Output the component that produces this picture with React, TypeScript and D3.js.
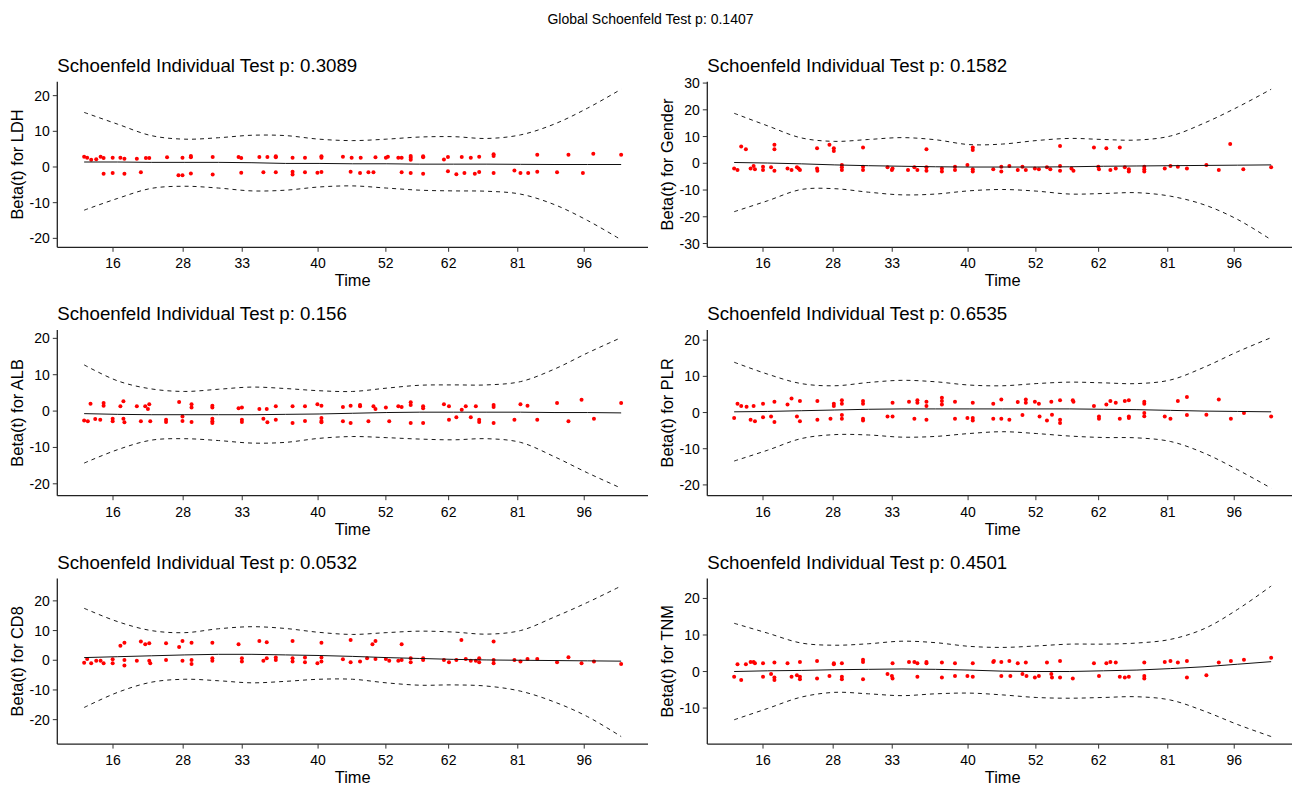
import React from "react";
import * as d3 from "d3";

// ---------- data ----------
const globalP = "0.1407";
const timeRange = [0, 16]; // transformed (km) time extent of events
const timeTickPos = [0.86, 2.95, 4.71, 6.97, 8.99, 10.86, 12.92, 14.9];
const timeTickLabels = ["16", "28", "33", "40", "52", "62", "81", "96"];
const smoothX = [0, 1, 2, 3, 4, 5, 6, 7, 8, 9, 10, 11, 12, 13, 14, 15, 16];

const ldhPoints = [[0,2.9],[0.09,2.6],[0.21,2.0],[0.36,2.2],[0.49,2.9],[0.58,2.5],[0.58,-1.9],[0.85,2.6],[0.85,-1.7],[1.08,2.6],[1.2,2.3],[1.2,-1.9],[1.57,2.3],[1.69,-1.5],[1.84,2.5],[1.94,2.5],[2.47,2.7],[2.81,-2.3],[2.93,2.6],[2.93,-2.3],[3.18,2.7],[3.18,3.1],[3.18,-1.8],[3.83,2.8],[3.83,-2.1],[4.6,2.8],[4.68,2.5],[4.68,-1.6],[5.22,2.8],[5.34,-1.5],[5.46,2.8],[5.71,2.7],[5.71,3.0],[5.71,-1.5],[6.21,2.6],[6.21,-1.3],[6.21,-2.1],[6.58,2.6],[6.58,-1.5],[6.95,-1.6],[7.07,2.6],[7.07,3.0],[7.07,-1.4],[7.71,2.9],[7.94,-1.3],[7.97,2.6],[8.22,-1.7],[8.24,2.6],[8.47,-1.5],[8.62,-1.5],[8.68,2.7],[8.99,2.6],[9.05,2.9],[9.36,2.6],[9.46,2.6],[9.46,-1.5],[9.73,2.0],[9.73,2.6],[9.73,3.1],[9.73,-1.7],[10.1,2.7],[10.1,3.0],[10.1,-1.9],[10.72,2.1],[10.84,2.8],[10.84,-1.2],[11.09,-2.0],[11.25,2.8],[11.33,-1.7],[11.52,2.6],[11.64,-1.9],[11.77,2.9],[11.77,-1.4],[12.2,3.1],[12.2,3.6],[12.2,-1.7],[12.82,-1.0],[13.0,-1.7],[13.23,-1.7],[13.5,3.4],[13.5,-1.3],[14.09,-1.5],[14.43,3.4],[14.86,-1.7],[15.17,3.7],[16,3.4]];
const ldhUpper = [15.3, 12.0, 8.8, 7.8, 8.2, 8.9, 8.8, 7.8, 7.4, 7.8, 8.4, 8.5, 8.0, 9.0, 12.0, 16.5, 21.8];
const ldhLower = [-12.1, -8.8, -6.0, -5.4, -5.9, -6.7, -6.5, -5.6, -5.3, -5.9, -6.5, -6.7, -6.8, -7.6, -10.5, -15.0, -20.4];
const ldhBeta = [1.4, 1.4, 1.3, 1.3, 1.3, 1.2, 1.0, 1.0, 0.9, 0.9, 0.8, 0.8, 0.8, 0.75, 0.7, 0.7, 0.7];

const genderPoints = [[0,-1.9],[0.1,-2.5],[0.21,6.25],[0.35,5.25],[0.49,-1.9],[0.58,-1.0],[0.62,-2.25],[0.86,-1.25],[0.86,-2.5],[1.1,-1.5],[1.2,6.9],[1.2,5.25],[1.2,-2.75],[1.59,-1.9],[1.71,-2.5],[1.87,-1.5],[1.92,-1.9],[1.96,-2.5],[2.47,5.6],[2.47,-1.9],[2.48,-2.75],[2.84,6.9],[2.97,5.6],[2.97,4.6],[3.21,-0.6],[3.21,-1.5],[3.21,-2.5],[3.84,5.9],[3.84,-1.25],[3.84,-2.5],[4.57,-1.5],[4.7,-2.5],[4.72,-1.9],[5.18,-2.5],[5.37,-1.5],[5.46,-2.5],[5.73,5.25],[5.73,-1.5],[5.73,-2.75],[6.19,-1.9],[6.19,-3.1],[6.58,-1.25],[6.58,-2.5],[6.95,-0.6],[7.11,5.9],[7.11,5.0],[7.11,-2.25],[7.11,-3.1],[7.72,-2.25],[7.96,-1.25],[7.96,-3.1],[8.2,-1.0],[8.45,-2.5],[8.59,-1.25],[8.69,-2.5],[8.96,-1.9],[9.08,-2.25],[9.32,-1.5],[9.42,-2.25],[9.71,6.5],[9.71,-1.0],[9.71,-2.75],[10.05,-1.9],[10.11,-2.75],[10.72,5.9],[10.85,-1.25],[10.87,-2.25],[11.09,5.6],[11.21,-2.5],[11.37,-1.9],[11.49,5.9],[11.64,-1.5],[11.76,-2.25],[11.76,-3.1],[12.22,-1.25],[12.22,-2.25],[12.22,-3.1],[12.83,-1.9],[13.0,-1.0],[13.22,-1.25],[13.49,-1.9],[14.07,-0.6],[14.44,-2.5],[14.78,7.25],[15.17,-2.25],[16,-1.5]];
const genderUpper = [18.7, 14.0, 9.5, 8.2, 8.9, 9.6, 8.8, 7.0, 7.2, 8.5, 9.3, 8.9, 8.7, 10.2, 15.0, 21.0, 27.7];
const genderLower = [-18.1, -14.0, -9.8, -9.5, -10.8, -11.8, -11.5, -10.3, -9.8, -10.4, -11.5, -11.3, -11.0, -12.3, -15.5, -21.0, -28.6];
const genderBeta = [0.3, 0.1, -0.2, -0.6, -0.9, -1.1, -1.3, -1.4, -1.4, -1.4, -1.3, -1.1, -1.0, -0.9, -0.8, -0.7, -0.6];

const albPoints = [[0,-2.6],[0.11,-2.8],[0.19,2.0],[0.33,-2.2],[0.48,-2.4],[0.58,2.2],[0.58,1.5],[0.85,-2.1],[0.85,-2.8],[1.08,1.3],[1.17,2.7],[1.17,-2.1],[1.2,-3.1],[1.57,1.3],[1.69,-2.8],[1.82,1.3],[1.9,0.6],[1.94,1.9],[1.97,-2.8],[2.44,-2.4],[2.44,-3.0],[2.83,2.5],[2.93,-1.5],[2.93,-2.7],[3.2,1.9],[3.2,1.0],[3.2,-3.0],[3.82,1.5],[3.82,1.0],[3.82,-2.1],[3.82,-2.8],[3.82,-3.3],[4.6,0.8],[4.7,1.0],[4.7,-2.4],[4.7,-3.0],[5.22,0.6],[5.34,-2.1],[5.44,0.6],[5.46,-3.1],[5.71,1.3],[5.71,-2.4],[6.21,1.3],[6.21,-3.3],[6.58,1.3],[6.58,-2.7],[6.95,1.9],[7.07,1.5],[7.07,-1.9],[7.07,-2.7],[7.07,-3.1],[7.71,1.1],[7.71,-2.8],[7.94,1.5],[7.94,-3.3],[8.22,1.7],[8.22,1.3],[8.47,-2.8],[8.62,1.3],[8.68,0.6],[8.99,1.0],[9.09,-2.8],[9.36,1.3],[9.46,1.1],[9.73,2.4],[9.73,1.7],[9.73,-3.3],[10.1,1.3],[10.1,0.8],[10.1,-3.3],[10.72,1.9],[10.87,1.3],[10.87,-2.4],[11.09,-1.7],[11.25,0.4],[11.37,1.3],[11.52,-1.7],[11.67,1.3],[11.77,-2.4],[11.77,-3.0],[12.2,1.7],[12.2,1.1],[12.2,-3.3],[12.82,-2.4],[13.0,1.9],[13.21,1.5],[13.5,-2.4],[14.09,2.2],[14.43,-2.8],[14.82,3.1],[15.19,-2.1],[16,2.2]];
const albUpper = [12.7, 8.3, 6.1, 5.4, 6.0, 6.6, 6.2, 5.6, 5.4, 6.3, 7.1, 7.2, 7.2, 8.1, 11.5, 16.0, 20.2];
const albLower = [-14.3, -10.6, -8.0, -7.6, -8.1, -8.8, -8.6, -7.5, -7.0, -7.3, -7.7, -7.9, -7.6, -8.6, -12.5, -17.0, -21.2];
const albBeta = [-0.7, -0.9, -1.0, -1.0, -1.0, -1.0, -0.9, -0.8, -0.6, -0.4, -0.3, -0.3, -0.3, -0.3, -0.4, -0.4, -0.5];

const plrPoints = [[0,-1.5],[0.1,2.4],[0.21,1.8],[0.37,1.6],[0.49,-2.0],[0.58,1.8],[0.62,-2.4],[0.86,2.4],[0.86,-1.3],[1.1,-1.1],[1.2,3.0],[1.2,-2.6],[1.59,2.2],[1.71,3.9],[1.87,-1.1],[1.96,3.2],[1.96,-2.4],[2.48,3.2],[2.48,-2.0],[2.87,-1.7],[2.97,2.4],[2.97,1.8],[3.21,3.4],[3.21,2.4],[3.21,-0.7],[3.21,-1.7],[3.84,3.2],[3.84,2.4],[3.84,-1.7],[3.84,-2.2],[4.57,-1.1],[4.72,2.7],[4.72,-1.1],[5.21,3.0],[5.37,-1.7],[5.46,3.4],[5.46,2.7],[5.73,3.0],[5.73,1.8],[5.73,-2.0],[6.19,4.1],[6.19,3.2],[6.19,2.2],[6.58,3.0],[6.58,-1.7],[6.95,-1.5],[7.11,2.7],[7.11,-1.5],[7.11,-2.2],[7.72,2.4],[7.72,-1.7],[7.96,3.6],[7.96,-1.7],[8.2,-2.0],[8.45,2.9],[8.59,-0.7],[8.69,3.6],[8.69,2.7],[8.96,3.0],[9.08,2.4],[9.1,-1.1],[9.32,-2.2],[9.45,3.0],[9.47,-0.6],[9.71,3.4],[9.71,-2.0],[9.71,-2.9],[10.09,3.4],[10.11,3.0],[10.72,1.8],[10.87,-1.1],[10.87,-1.7],[11.09,2.2],[11.21,3.2],[11.37,2.7],[11.49,-1.7],[11.64,3.2],[11.76,3.4],[11.76,-1.1],[11.76,-1.5],[12.22,3.0],[12.22,2.4],[12.22,-0.1],[12.22,-1.0],[12.83,-1.1],[13.0,-1.7],[13.22,3.2],[13.49,4.3],[13.49,-0.7],[14.07,-0.6],[14.44,3.6],[14.8,-1.7],[15.19,-0.1],[16,-1.1]];
const plrUpper = [13.9, 10.6, 8.0, 7.4, 8.3, 8.9, 8.5, 7.6, 7.4, 8.0, 8.4, 8.2, 8.0, 9.0, 12.5, 16.8, 20.7];
const plrLower = [-13.4, -10.4, -7.2, -6.1, -6.2, -6.8, -6.6, -5.8, -5.3, -5.8, -6.5, -6.9, -7.0, -8.0, -11.2, -15.8, -20.9];
const plrBeta = [0.2, 0.3, 0.5, 0.7, 0.9, 1.0, 1.0, 1.0, 1.0, 1.0, 1.0, 0.9, 0.8, 0.6, 0.4, 0.3, 0.2];

const cd8Points = [[0,-0.8],[0.09,0.4],[0.21,-1.0],[0.36,-0.2],[0.49,-0.2],[0.58,-1.0],[0.85,0.3],[0.85,-1.0],[1.08,4.9],[1.2,5.9],[1.2,0.1],[1.2,-1.8],[1.57,-0.2],[1.69,6.3],[1.82,5.4],[1.94,5.7],[1.94,-0.2],[1.97,-1.0],[2.44,5.7],[2.44,0.1],[2.83,4.5],[2.93,6.5],[2.93,-0.2],[3.2,5.9],[3.2,0.1],[3.2,-1.3],[3.82,5.9],[3.82,0.7],[3.82,-0.2],[4.6,5.4],[4.7,0.7],[4.7,-0.4],[5.22,6.5],[5.34,-0.2],[5.44,6.1],[5.44,0.7],[5.71,0.9],[5.71,0.1],[6.21,6.5],[6.21,0.7],[6.21,-0.4],[6.58,0.9],[6.58,-0.7],[6.95,-1.0],[7.07,5.9],[7.07,0.9],[7.07,-0.4],[7.71,0.3],[7.94,6.8],[7.94,-0.7],[8.22,-0.4],[8.43,0.7],[8.59,5.4],[8.68,6.5],[8.68,0.4],[8.99,0.4],[9.09,-0.2],[9.36,-0.2],[9.46,5.4],[9.46,0.1],[9.73,0.7],[9.73,-0.7],[10.1,0.7],[10.1,0.1],[10.72,0.1],[10.87,-0.7],[11.09,0.1],[11.24,6.8],[11.37,0.4],[11.52,-0.2],[11.67,-0.2],[11.77,0.7],[11.77,-0.7],[12.2,6.3],[12.2,0.1],[12.2,-1.0],[12.82,0.1],[13.0,-0.4],[13.21,0.4],[13.5,0.4],[14.09,-0.7],[14.43,1.0],[14.82,-1.0],[15.19,-0.4],[16,-1.3]];
const cd8Upper = [17.5, 13.0, 10.0, 9.3, 10.6, 11.3, 10.7, 9.4, 8.7, 9.3, 9.8, 9.5, 8.8, 10.0, 14.5, 19.5, 25.0];
const cd8Lower = [-15.9, -10.8, -7.4, -6.4, -6.9, -7.6, -7.1, -6.4, -6.4, -7.6, -8.4, -8.3, -8.7, -10.4, -14.0, -19.0, -25.7];
const cd8Beta = [0.9, 1.2, 1.5, 1.8, 2.0, 2.0, 1.8, 1.6, 1.3, 0.9, 0.6, 0.3, 0.1, 0.0, -0.1, -0.2, -0.3];

const tnmPoints = [[0,-1.4],[0.1,2.0],[0.21,-2.3],[0.35,2.0],[0.49,2.6],[0.58,2.6],[0.62,2.3],[0.86,2.3],[0.86,-1.4],[1.1,-0.7],[1.2,2.5],[1.2,-1.6],[1.2,-2.3],[1.59,2.3],[1.71,-1.4],[1.87,-1.0],[1.96,2.6],[1.96,-1.4],[1.96,-2.1],[2.47,2.9],[2.47,-1.9],[2.84,-1.2],[2.97,2.3],[2.97,2.0],[3.21,2.3],[3.21,-1.4],[3.21,-2.1],[3.84,3.2],[3.84,2.6],[3.84,-2.1],[4.57,-0.7],[4.7,-1.2],[4.72,2.3],[4.72,-1.9],[5.21,2.6],[5.37,2.6],[5.46,2.3],[5.46,-1.4],[5.73,2.6],[5.73,2.3],[6.19,2.5],[6.19,-1.6],[6.58,2.3],[6.58,-1.2],[6.95,-1.2],[7.11,2.3],[7.11,-1.4],[7.72,2.6],[7.74,2.9],[7.96,2.6],[7.96,-1.2],[8.2,2.9],[8.23,-1.2],[8.45,2.3],[8.59,-0.7],[8.69,2.5],[8.71,-1.2],[8.96,-1.6],[9.08,-1.2],[9.32,2.5],[9.45,-0.7],[9.47,-1.6],[9.71,2.9],[9.71,-1.6],[10.09,-1.9],[10.72,2.3],[10.87,-1.2],[11.09,2.3],[11.21,2.6],[11.37,2.5],[11.49,-1.4],[11.64,-1.6],[11.76,-1.4],[12.22,2.5],[12.22,-1.2],[12.22,-1.9],[12.83,2.6],[13.0,2.9],[13.22,2.5],[13.49,2.9],[13.49,-1.6],[14.07,-1.0],[14.44,2.5],[14.8,2.9],[15.19,3.2],[16,3.8]];
const tnmUpper = [13.2, 10.5, 7.8, 7.2, 7.6, 8.3, 7.9, 6.9, 6.6, 7.0, 7.5, 7.5, 7.8, 8.8, 11.7, 17.0, 23.4];
const tnmLower = [-13.2, -10.1, -7.0, -5.7, -6.1, -6.6, -6.1, -5.9, -6.4, -7.1, -7.3, -7.1, -6.9, -7.8, -10.8, -14.5, -17.8];
const tnmBeta = [0.0, 0.2, 0.3, 0.5, 0.6, 0.7, 0.6, 0.4, 0.1, 0.0, 0.0, 0.2, 0.4, 0.8, 1.3, 2.0, 2.7];

const panels = [
  { name: "LDH", p: "0.3089", pts: ldhPoints, up: ldhUpper, lo: ldhLower, beta: ldhBeta },
  { name: "Gender", p: "0.1582", pts: genderPoints, up: genderUpper, lo: genderLower, beta: genderBeta },
  { name: "ALB", p: "0.156", pts: albPoints, up: albUpper, lo: albLower, beta: albBeta },
  { name: "PLR", p: "0.6535", pts: plrPoints, up: plrUpper, lo: plrLower, beta: plrBeta },
  { name: "CD8", p: "0.0532", pts: cd8Points, up: cd8Upper, lo: cd8Lower, beta: cd8Beta },
  { name: "TNM", p: "0.4501", pts: tnmPoints, up: tnmUpper, lo: tnmLower, beta: tnmBeta },
];

// ---------- layout ----------
const W = 1292, H = 786;
const FONT = "'Liberation Sans', Arial, Helvetica, sans-serif";
const COL_W = 650;
const ROW_H = 248.4;
const PANEL_LEFT = 57.3;
const PANEL_RIGHT = 648;
const PANEL_TOP = 81.7;
const PANEL_H = 165.6;

function expand(ext: number[], f = 0.05) {
  const pad = (ext[1] - ext[0]) * f;
  return [ext[0] - pad, ext[1] + pad];
}

function Panel({ d, col, row }: any) {
  const ox = col * COL_W;
  const top = PANEL_TOP + row * ROW_H;
  const bottom = top + PANEL_H;
  const left = ox + PANEL_LEFT;
  const right = ox + PANEL_RIGHT;

  const x = d3.scaleLinear().domain(expand(timeRange)).range([left, right]);
  const allY = [...d.pts.map((p: number[]) => p[1]), ...d.up, ...d.lo, ...d.beta];
  const ext = d3.extent(allY) as number[];
  const y = d3.scaleLinear().domain(expand(ext)).range([bottom, top]);
  const yTicks = y.ticks(5);

  const smooth = d3.line<number>().x((_, i) => x(smoothX[i])).y((v) => y(v)).curve(d3.curveCatmullRom);
  const lin = d3.line<number>().x((_, i) => x(smoothX[i])).y((v) => y(v));

  return (
    <g>
      <text x={left} y={top - 10} fontSize={18.7} fill="#000" fontFamily={FONT}>
        {`Schoenfeld Individual Test p: ${d.p}`}
      </text>
      {/* bands */}
      <path d={smooth(d.up) || ""} fill="none" stroke="#000" strokeWidth={0.9} strokeDasharray="4,4" />
      <path d={smooth(d.lo) || ""} fill="none" stroke="#000" strokeWidth={0.9} strokeDasharray="4,4" />
      {/* points */}
      {d.pts.map((p: number[], i: number) => (
        <circle key={i} cx={x(p[0])} cy={y(p[1])} r={2} fill="#FF0000" />
      ))}
      {/* beta(t) */}
      <path d={lin(d.beta) || ""} fill="none" stroke="#111" strokeWidth={1} />
      {/* axes */}
      <line x1={left} x2={right} y1={bottom} y2={bottom} stroke="#222" strokeWidth={1.3} />
      <line x1={left} x2={left} y1={top} y2={bottom} stroke="#222" strokeWidth={1.3} />
      {timeTickPos.map((t, i) => (
        <g key={i}>
          <line x1={x(t)} x2={x(t)} y1={bottom} y2={bottom + 4.5} stroke="#333" strokeWidth={1} />
          <text x={x(t)} y={bottom + 21} textAnchor="middle" fontSize={14} fill="#000" fontFamily={FONT}>
            {timeTickLabels[i]}
          </text>
        </g>
      ))}
      {yTicks.map((t) => (
        <g key={t}>
          <line x1={left - 4.5} x2={left} y1={y(t)} y2={y(t)} stroke="#333" strokeWidth={1} />
          <text x={left - 7.5} y={y(t)} dy="0.36em" textAnchor="end" fontSize={14} fill="#000" fontFamily={FONT}>
            {t}
          </text>
        </g>
      ))}
      <text x={(left + right) / 2} y={bottom + 39} textAnchor="middle" fontSize={16.4} fill="#000" fontFamily={FONT}>
        Time
      </text>
      <text
        transform={`translate(${ox + 22.5},${(top + bottom) / 2}) rotate(-90)`}
        textAnchor="middle"
        fontSize={16.4}
        fill="#000"
        fontFamily={FONT}
      >
        {`Beta(t) for ${d.name}`}
      </text>
    </g>
  );
}

export default function App() {
  return (
    <svg
      width={W}
      height={H}
      viewBox={`0 0 ${W} ${H}`}
      style={{ position: "absolute", left: 0, top: 0, background: "#fff" }}
    >
      <rect x={0} y={0} width={W} height={H} fill="#fff" />
      <text x={650.5} y={24.3} textAnchor="middle" fontSize={14} fill="#000" fontFamily={FONT}>
        {`Global Schoenfeld Test p: ${globalP}`}
      </text>
      {panels.map((d, i) => (
        <Panel key={d.name} d={d} col={i % 2} row={Math.floor(i / 2)} />
      ))}
    </svg>
  );
}
